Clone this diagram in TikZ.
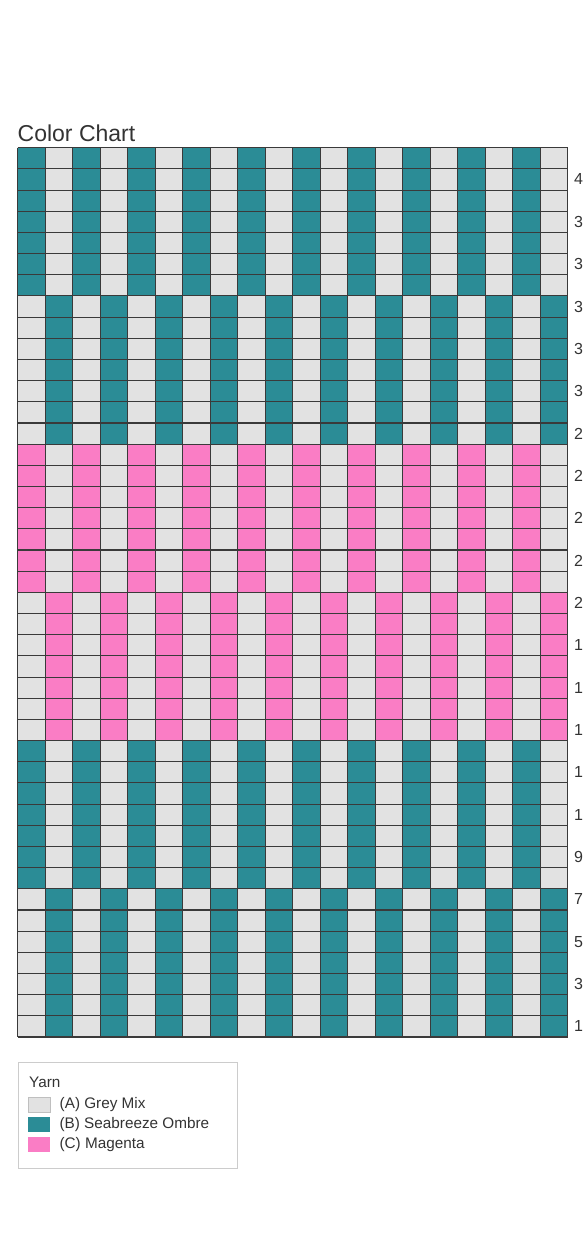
\documentclass[tikz,border=0pt]{standalone}
\usepackage{fontspec}
\setmainfont{Liberation Sans}
\usepackage{tikz}
\usetikzlibrary{positioning}
\definecolor{greyMix}{HTML}{E2E2E2}
\definecolor{seaTeal}{HTML}{2B8C96}
\definecolor{magentaPink}{HTML}{FA7DC5}
\definecolor{gridLine}{HTML}{3A3A3A}
\definecolor{inkGrey}{HTML}{333333}

\begin{document}
\begin{tikzpicture}[x=1pt, y=-1pt,
    gridline/.style={draw=gridLine, line width=1.1pt},
    rowlabel/.style={anchor=west, inner sep=0pt, text=inkGrey, font=\fontsize{16}{16}\selectfont},
    swatch/.style={anchor=north west, minimum width=22pt, minimum height=15pt, inner sep=0pt},
    legendtext/.style={anchor=west, inner sep=0pt, text=inkGrey, font=\fontsize{15.3}{15.3}\selectfont},
  ]
  \useasboundingbox (0,0) rectangle (582,1254);
  \node[anchor=base west, inner sep=0pt, text=inkGrey, font=\fontsize{23}{23}\selectfont] (title) at (17.5,141) {Color Chart};
  % bands of 7 rows, odd/even column colours
  \foreach \b/\ca/\cb in {0/seaTeal/greyMix, 1/greyMix/seaTeal, 2/magentaPink/greyMix,
                          3/greyMix/magentaPink, 4/seaTeal/greyMix, 5/greyMix/seaTeal} {
    \fill[\cb] (17.7,{147.7+\b*148.2}) rectangle ++(550,148.2);
    \foreach \c in {0,2,...,18}
      \fill[\ca] ({17.7+\c*27.5},{147.7+\b*148.2}) rectangle ++(27.5,148.2);
  }
  \foreach \i in {0,...,20}
    \draw[gridline] ({17.7+\i*27.5},147.7) -- ++(0,889.3);
  \foreach \j in {0,...,42}
    \draw[gridline] (17.7,{147.7+\j*21.174}) -- ++(550,0);
  \foreach \r in {1,3,...,41}
    \node[rowlabel] (row\r) at (574,{1037-(\r-0.5)*21.174}) {\r};
  % legend
  \draw[draw=black!20, line width=0.8pt] (18,1062) rectangle (237,1168);
  \node[legendtext, anchor=base west] (yarn) at (29,1087) {Yarn};
  \node[swatch, fill=greyMix, draw=black!25, line width=0.5pt] (swA) at (28,1097) {};
  \node[swatch, fill=seaTeal] (swB) at (28,1116.5) {};
  \node[swatch, fill=magentaPink] (swC) at (28,1137) {};
  \node[legendtext, right=9pt of swA] (txtA) {(A) Grey Mix};
  \node[legendtext, right=9pt of swB] (txtB) {(B) Seabreeze Ombre};
  \node[legendtext, right=9pt of swC] (txtC) {(C) Magenta};
\end{tikzpicture}
\end{document}
